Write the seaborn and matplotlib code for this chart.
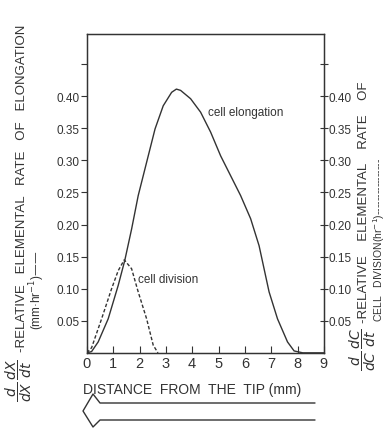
import numpy as np
import pandas as pd
import matplotlib
matplotlib.use("Agg")
import matplotlib.pyplot as plt
from matplotlib.lines import Line2D
import seaborn as sns

# values (distance from tip in mm, relative rate)
elong_x = [0.0, 0.18, 0.43, 0.81, 1.19, 1.44, 1.70, 1.95, 2.27, 2.59, 2.90, 3.22, 3.40,
           3.56, 3.94, 4.32, 4.70, 5.08, 5.46, 5.84, 6.22, 6.54, 6.73, 6.92, 7.24, 7.62,
           7.87, 8.2, 9.0]
elong_y = [0.0, 0.002, 0.017, 0.053, 0.105, 0.144, 0.193, 0.245, 0.297, 0.349, 0.385, 0.406, 0.411,
           0.409, 0.396, 0.375, 0.344, 0.307, 0.276, 0.245, 0.209, 0.167, 0.131, 0.095, 0.053, 0.017,
           0.003, 0.0, 0.0]
div_x = [0.0, 0.18, 0.56, 0.94, 1.19, 1.42, 1.70, 1.95, 2.27, 2.52, 2.70]
div_y = [0.0, 0.008, 0.053, 0.100, 0.128, 0.145, 0.131, 0.095, 0.053, 0.012, 0.0]

yticks = [0.05, 0.10, 0.15, 0.20, 0.25, 0.30, 0.35, 0.40, 0.45]
ytick_labels = ["0.05", "0.10", "0.15", "0.20", "0.25", "0.30", "0.35", "0.40", ""]

ink = "#333333"

sns.set_style("ticks")
plt.rcParams["font.family"] = ["Liberation Sans", "DejaVu Sans"]
plt.rcParams["mathtext.fontset"] = "dejavusans"

fig = plt.figure(figsize=(3.86, 4.31), dpi=100)
ax = fig.add_axes([0.225, 0.179, 0.614, 0.74])

el = pd.DataFrame({"x": elong_x, "y": elong_y})
dv = pd.DataFrame({"x": div_x, "y": div_y})
sns.lineplot(data=el, x="x", y="y", ax=ax, color=ink, lw=1.0)
sns.lineplot(data=dv, x="x", y="y", ax=ax, color=ink, lw=1.0, linestyle=(0, (2.5, 1.5)))

ax.set_xlim(0, 9)
ax.set_ylim(0, 0.497)
ax.set_xticks(range(10))
ax.set_yticks(yticks)
ax.set_yticklabels(ytick_labels)
ax.tick_params(axis="x", direction="in", length=5, labelsize=10.5, pad=2, color=ink, labelcolor=ink)
ax.tick_params(axis="y", direction="out", length=4, labelsize=8.5, pad=1, color=ink, labelcolor=ink)
ax.set_xlabel("")
ax.set_ylabel("")
for s in ax.spines.values():
    s.set_color(ink)
    s.set_linewidth(1.0)

ax2 = ax.twinx()
ax2.set_ylim(0, 0.497)
ax2.set_yticks(yticks)
ax2.set_yticklabels(ytick_labels)
ax2.tick_params(axis="y", direction="inout", length=6, labelsize=8.5, pad=0, color=ink, labelcolor=ink)
for s in ax2.spines.values():
    s.set_color(ink)

ax.text(4.6, 0.375, "cell elongation", fontsize=8.5, color=ink, va="center")
ax.text(1.95, 0.115, "cell division", fontsize=8.5, color=ink, va="center")

fig.text(0.215, 0.095, "DISTANCE  FROM  THE  TIP (mm)", fontsize=10, color=ink, va="center")

# left axis title: fractions, main line and units line
fig.text(0.05, 0.118, r"$\dfrac{d}{dX}\,\dfrac{dX}{dt}$", rotation=90, fontsize=10, color=ink,
         ha="center", va="center")
fig.text(0.057, 0.183, "-RELATIVE   ELEMENTAL   RATE   OF   ELONGATION",
         rotation=90, fontsize=9.5, color=ink, ha="center", va="bottom")
fig.text(0.096, 0.234, "(mm·hr$^{-1}$)——", rotation=90, fontsize=8.5, color=ink,
         ha="center", va="bottom")

# right axis title
fig.text(0.94, 0.188, r"$\dfrac{d}{dC}\,\dfrac{dC}{dt}$", rotation=90, fontsize=10, color=ink,
         ha="center", va="center")
fig.text(0.943, 0.251, "-RELATIVE    ELEMENTAL    RATE    OF",
         rotation=90, fontsize=9.5, color=ink, ha="center", va="bottom")
fig.text(0.981, 0.253, "CELL   DIVISION(hr$^{-1}$)----------------", rotation=90, fontsize=7.5,
         color=ink, ha="center", va="bottom")

# hollow arrow under the axis, pointing toward the tip
W, H = 386.0, 431.0
arrow_x = [315, 100, 93, 83, 93, 100, 315]
arrow_y = [404, 404, 395, 412, 428, 421, 421]
fig.add_artist(Line2D([v / W for v in arrow_x], [1 - v / H for v in arrow_y],
                      color=ink, lw=1.0, transform=fig.transFigure))

fig.savefig("out.png", dpi=100)
